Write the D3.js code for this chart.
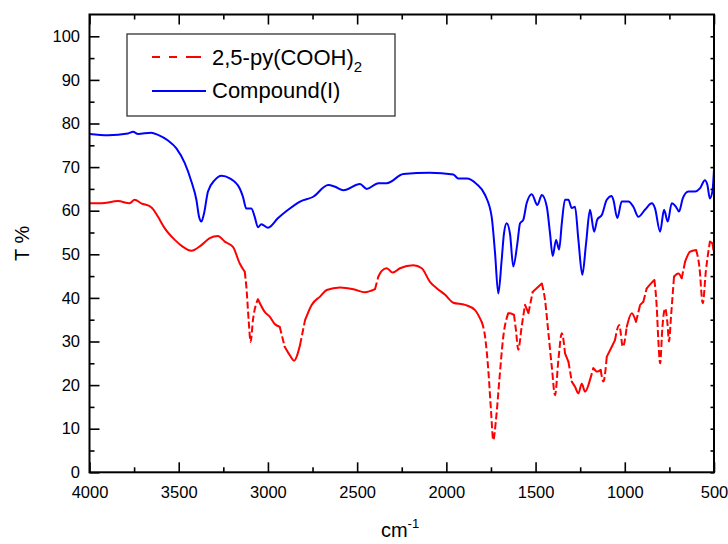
<!DOCTYPE html>
<html>
<head>
<meta charset="utf-8">
<script src="https://cdn.jsdelivr.net/npm/d3@7/dist/d3.min.js"></script>
<style>
  body { margin: 0; background: #fff; }
  svg text { font-family: Arial, "Liberation Sans", sans-serif; fill: #000; }
</style>
</head>
<body>
<div id="chart"></div>
<script>
// 2,5-py(COOH)2 spectrum (red, dashed)
const acidWn = [4000, 3934, 3840, 3775, 3747, 3710, 3654, 3616, 3579, 3522, 3476, 3429, 3373, 3326, 3280, 3242, 3196, 3158, 3130, 3121,
  3108, 3097, 3084, 3056, 3018, 2990, 2962, 2934, 2906, 2878, 2854, 2820, 2792, 2755, 2708, 2671, 2596, 2521, 2456, 2400,
  2381, 2362, 2334, 2301, 2260, 2185, 2138, 2092, 2054, 2007, 1961, 1895, 1839, 1802, 1783, 1765, 1750, 1737, 1722, 1703,
  1681, 1653, 1643, 1621, 1610, 1597, 1578, 1559, 1540, 1516, 1494, 1465, 1447, 1428, 1409, 1391, 1372, 1353, 1335, 1316,
  1297, 1279, 1260, 1241, 1223, 1195, 1176, 1154, 1135, 1120, 1101, 1073, 1055, 1031, 1011, 989, 961, 937, 914, 896,
  877, 849, 834, 821, 812, 802, 789, 774, 761, 752, 741, 724, 700, 681, 662, 634, 600, 582, 563, 545,
  523, 508, 500];
const acidT = [61.7, 61.7, 62.2, 61.7, 62.5, 61.7, 60.8, 58.6, 56.0, 53.3, 51.7, 50.8, 52.1, 53.7, 54.2, 52.9, 51.7, 47.9, 46.0, 42.6,
  34.9, 29.9, 34.9, 39.7, 36.8, 35.7, 34.0, 33.4, 28.8, 26.9, 25.6, 29.2, 34.9, 38.4, 40.3, 41.8, 42.4, 42.0, 41.3, 42.0,
  44.9, 46.2, 46.8, 45.8, 46.8, 47.5, 46.8, 43.7, 42.2, 40.7, 38.9, 38.4, 37.2, 34.5, 31.1, 23.5, 14.3, 7.4, 12.0, 21.2,
  31.1, 36.5, 36.5, 36.1, 32.6, 28.1, 33.4, 38.4, 36.5, 41.4, 42.2, 43.3, 39.5, 31.9, 24.2, 17.7, 25.8, 31.9, 27.3, 25.4,
  20.8, 19.6, 18.1, 20.3, 18.5, 21.2, 23.9, 23.1, 23.5, 20.8, 26.5, 28.8, 30.3, 33.8, 28.8, 33.4, 36.5, 34.5, 38.4, 39.1,
  42.2, 43.5, 44.1, 38.0, 30.3, 25.0, 33.4, 37.6, 34.2, 30.0, 35.7, 44.9, 45.6, 44.5, 48.3, 50.6, 51.0, 47.2, 38.8, 46.4,
  52.9, 52.5, 49.8];

// Compound(I) spectrum (blue, solid)
const compoundWn = [4000, 3896, 3784, 3756, 3728, 3654, 3616, 3560, 3513, 3466, 3429, 3401, 3386, 3373, 3358, 3336, 3298, 3261, 3214, 3158,
  3140, 3121, 3093, 3074, 3056, 3037, 2999, 2943, 2887, 2820, 2746, 2662, 2624, 2577, 2484, 2446, 2381, 2334, 2241, 2092,
  1961, 1933, 1886, 1830, 1783, 1746, 1727, 1709, 1690, 1677, 1662, 1643, 1625, 1602, 1587, 1569, 1550, 1521, 1490, 1465,
  1437, 1419, 1404, 1385, 1368, 1353, 1335, 1316, 1297, 1279, 1260, 1238, 1217, 1195, 1172, 1154, 1129, 1101, 1073, 1064,
  1042, 1017, 980, 952, 924, 887, 849, 831, 802, 780, 759, 737, 713, 696, 675, 644, 606, 579, 551, 537,
  523, 508, 500];
const compoundT = [77.6, 77.3, 77.7, 78.1, 77.6, 77.9, 77.4, 76.1, 74.3, 70.9, 66.7, 62.5, 58.6, 57.5, 59.4, 64.4, 67.0, 68.0, 67.4, 65.1,
  63.2, 60.5, 60.5, 58.6, 56.2, 56.9, 56.1, 58.3, 60.2, 62.1, 63.2, 65.9, 65.5, 64.7, 66.1, 65.0, 66.3, 66.3, 68.4, 68.7,
  68.3, 67.4, 67.4, 66.1, 63.6, 58.6, 50.2, 41.0, 48.7, 54.8, 57.1, 54.6, 47.2, 52.5, 57.1, 57.9, 61.7, 63.8, 61.3, 63.6,
  60.9, 54.8, 49.6, 53.3, 51.1, 57.1, 62.5, 62.5, 60.6, 60.9, 53.3, 45.3, 52.5, 60.2, 55.2, 58.0, 59.0, 62.5, 63.4, 62.5,
  58.3, 62.1, 62.1, 60.9, 58.6, 60.2, 61.7, 60.6, 55.2, 60.2, 57.5, 61.7, 60.9, 59.8, 62.8, 64.4, 64.4, 65.1, 67.0, 65.9,
  62.8, 64.7, 69.5];

const xMajor = [4000, 3500, 3000, 2500, 2000, 1500, 1000, 500];
const xMinor = [3750, 3250, 2750, 2250, 1750, 1250, 750];
const yMajor = [0, 10, 20, 30, 40, 50, 60, 70, 80, 90, 100];
const yMinor = [5, 15, 25, 35, 45, 55, 65, 75, 85, 95];

const W = 728, H = 544;
const pL = 89.5, pR = 714, pT = 14.5, pB = 472.3;

const svg = d3.select('#chart').append('svg')
  .attr('width', W).attr('height', H);

const x = d3.scaleLinear().domain([4000, 500]).range([pL, pR]);
const y = d3.scaleLinear().domain([0, 105]).range([pB, pT]);

svg.append('defs').append('clipPath').attr('id', 'plot-clip')
  .append('rect')
  .attr('x', pL).attr('y', pT)
  .attr('width', pR - pL).attr('height', pB - pT);

const plot = svg.append('g').attr('clip-path', 'url(#plot-clip)');

// blue curve
const compound = compoundWn.map((w, i) => [w, compoundT[i]]);
const line = d3.line()
  .x(d => x(d[0])).y(d => y(d[1]))
  .curve(d3.curveMonotoneX);

plot.append('path')
  .datum(compound)
  .attr('d', line)
  .attr('fill', 'none')
  .attr('stroke', '#0000ff')
  .attr('stroke-width', 2)
  .attr('stroke-linejoin', 'round');

// red curve: the dash only shows on steep runs, like the original plot
const acid = acidWn.map((w, i) => [w, acidT[i]]);
const runs = [];
let cur = null;
for (let i = 1; i < acid.length; i++) {
  const dx = Math.abs(x(acid[i][0]) - x(acid[i - 1][0]));
  const dy = Math.abs(y(acid[i][1]) - y(acid[i - 1][1]));
  const steep = dy / dx > 3.2;
  if (!cur || cur.steep !== steep) {
    cur = { steep, pts: [acid[i - 1]] };
    runs.push(cur);
  }
  cur.pts.push(acid[i]);
}

plot.selectAll('.acid-run')
  .data(runs)
  .join('path')
  .attr('class', 'acid-run')
  .attr('d', d => line(d.pts))
  .attr('fill', 'none')
  .attr('stroke', '#ff0000')
  .attr('stroke-width', 2)
  .attr('stroke-linejoin', 'round')
  .attr('stroke-linecap', d => d.steep ? 'butt' : 'round')
  .attr('stroke-dasharray', d => d.steep ? '7,3' : null);

// axes, ticks pointing inward
function tickAxis(axis, transform, vals, size, fmt, pad) {
  const g = svg.append('g')
    .attr('transform', transform)
    .call(axis.tickValues(vals).tickSize(size).tickPadding(pad || 3).tickFormat(fmt || ''));
  g.select('.domain').remove();
  g.selectAll('line').attr('stroke', '#000').attr('stroke-width', 1.6);
  g.selectAll('text').attr('font-size', 16.5).attr('fill', '#000')
    .style('font-family', 'Arial, "Liberation Sans", sans-serif');
  return g;
}

tickAxis(d3.axisBottom(x), `translate(0,${pB})`, xMajor, -10, d3.format('d'), 13.5);
tickAxis(d3.axisBottom(x), `translate(0,${pB})`, xMinor, -5);
tickAxis(d3.axisTop(x), `translate(0,${pT})`, xMajor, -10);
tickAxis(d3.axisTop(x), `translate(0,${pT})`, xMinor, -5);
tickAxis(d3.axisLeft(y), `translate(${pL},0)`, yMajor, -10, d3.format('d'), 9.5);
tickAxis(d3.axisLeft(y), `translate(${pL},0)`, yMinor, -5);
tickAxis(d3.axisRight(y), `translate(${pR},0)`, yMajor.concat(yMinor), -3.5);

svg.append('rect')
  .attr('x', pL).attr('y', pT)
  .attr('width', pR - pL).attr('height', pB - pT)
  .attr('fill', 'none')
  .attr('stroke', '#000')
  .attr('stroke-width', 2);

// legend
const lg = svg.append('g');
lg.append('rect')
  .attr('x', 127).attr('y', 34)
  .attr('width', 268).attr('height', 82)
  .attr('fill', '#fff')
  .attr('stroke', '#333')
  .attr('stroke-width', 1.3);

lg.append('line')
  .attr('x1', 152).attr('x2', 201).attr('y1', 57).attr('y2', 57)
  .attr('stroke', '#ff0000').attr('stroke-width', 2)
  .attr('stroke-dasharray', '8,9,8,9,15');
lg.append('line')
  .attr('x1', 152).attr('x2', 206).attr('y1', 91).attr('y2', 91)
  .attr('stroke', '#0000ff').attr('stroke-width', 2);

const t1 = lg.append('text')
  .attr('x', 212).attr('y', 65)
  .attr('font-size', 22);
t1.append('tspan').text('2,5-py(COOH)');
t1.append('tspan').attr('dy', 7).attr('font-size', 15).text('2');

lg.append('text')
  .attr('x', 212).attr('y', 98)
  .attr('font-size', 22)
  .text('Compound(I)');

// axis titles
svg.append('text')
  .attr('transform', `translate(29,${(pT + pB) / 2}) rotate(-90)`)
  .attr('text-anchor', 'middle')
  .attr('font-size', 20)
  .text('T %');

const xt = svg.append('text')
  .attr('x', 400).attr('y', 537)
  .attr('text-anchor', 'middle')
  .attr('font-size', 20);
xt.append('tspan').text('cm');
xt.append('tspan').attr('dy', -9).attr('font-size', 13).text('-1');
</script>
</body>
</html>
